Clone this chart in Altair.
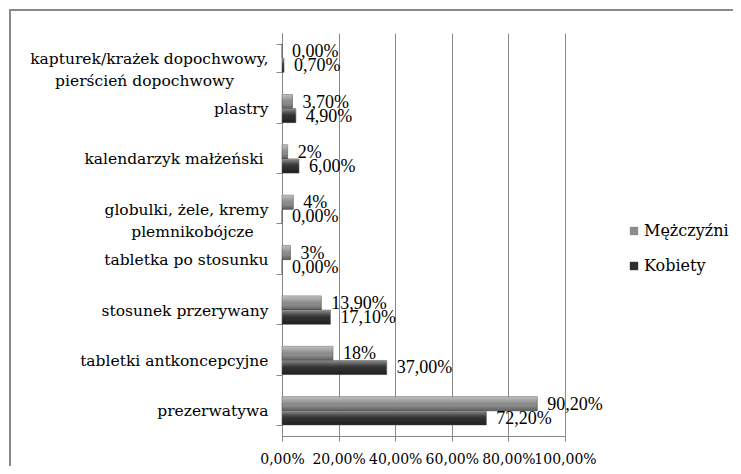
import altair as alt
import pandas as pd

NB = "\u00a0"
ZW = "\u200b"
categories = [
    "kapturek/krażek dopochwowy,|pierścień dopochwowy" + NB * 7 + ZW,
    "plastry",
    "kalendarzyk małżeński" + NB + ZW,
    "globulki, żele, kremy|plemnikobójcze" + NB * 3 + ZW,
    "tabletka po stosunku",
    "stosunek przerywany",
    "tabletki antkoncepcyjne",
    "prezerwatywa",
]
series = ["Mężczyźni", "Kobiety"]
men_values = [0.0, 3.7, 2.0, 4.0, 3.0, 13.9, 18.0, 90.2]
women_values = [0.7, 4.9, 6.0, 0.0, 0.0, 17.1, 37.0, 72.2]
men_labels = ["0,00%", "3,70%", "2%", "4%", "3%", "13,90%", "18%", "90,20%"]
women_labels = ["0,70%", "4,90%", "6,00%", "0,00%", "0,00%", "17,10%", "37,00%", "72,20%"]
x_ticks = [0, 20, 40, 60, 80, 100]

rows = []
for c, v, l in zip(categories, men_values, men_labels):
    rows.append({"kat": c, "seria": series[0], "v": v, "lab": l})
for c, v, l in zip(categories, women_values, women_labels):
    rows.append({"kat": c, "seria": series[1], "v": v, "lab": l})
df = pd.DataFrame(rows)

AXFONT = "DejaVu Serif"
TXTFONT = "serif"

y_enc = alt.Y(
    "kat:N",
    sort=categories,
    scale=alt.Scale(paddingInner=0.44, paddingOuter=0.22),
    axis=alt.Axis(
        title=None,
        labelExpr="split(datum.label, '|')",
        labelFont=AXFONT,
        labelFontSize=15.5,
        labelColor="#000",
        labelPadding=8,
        labelLimit=400,
        labelLineHeight=22,
        tickBand="extent",
        tickSize=6,
        tickColor="#888",
        domainColor="#888",
        grid=False,
    ),
)
x_enc = alt.X(
    "v:Q",
    scale=alt.Scale(domain=[0, 100], nice=False),
    axis=alt.Axis(
        title=None,
        values=x_ticks,
        labelExpr="replace(format(datum.value, '.2f'), '.', ',') + '%'",
        labelFont=AXFONT,
        labelFontSize=14,
        labelColor="#000",
        labelOverlap=False,
        labelPadding=11,
        labelFlush=False,
        tickSize=5,
        tickColor="#888",
        domainColor="#888",
        gridColor="#8a8a8a",
        gridWidth=1,
    ),
)
yoff = alt.YOffset("seria:N", sort=series)

base = alt.Chart(df)

bars = base.mark_bar(stroke="#555", strokeWidth=0.6).encode(
    y=y_enc,
    x=x_enc,
    yOffset=yoff,
    color=alt.Color(
        "seria:N",
        sort=series,
        scale=alt.Scale(domain=series, range=["#8c8c8c", "#2e2e2e"]),
        legend=alt.Legend(
            title=None,
            orient="none",
            legendX=344,
            legendY=190,
            symbolType="square",
            symbolSize=70,
            symbolStrokeWidth=0,
            labelFont=AXFONT,
            labelFontSize=16,
            labelColor="#000",
            rowPadding=19,
            labelOffset=2,
        ),
    ),
)

shine = base.mark_bar(
    fill={
        "gradient": "linear",
        "x1": 0, "y1": 0, "x2": 0, "y2": 1,
        "stops": [
            {"offset": 0, "color": "rgba(255,255,255,0.45)"},
            {"offset": 0.35, "color": "rgba(255,255,255,0.12)"},
            {"offset": 0.65, "color": "rgba(0,0,0,0.0)"},
            {"offset": 1, "color": "rgba(0,0,0,0.35)"},
        ],
    }
).encode(y=alt.Y("kat:N", sort=categories), x="v:Q", yOffset=yoff)

labels = base.mark_text(
    align="left", baseline="middle", dx=10, dy=1, font=TXTFONT, fontSize=18, color="#000"
).encode(y=alt.Y("kat:N", sort=categories), x="v:Q", yOffset=yoff, text="lab:N")

border = alt.Chart(pd.DataFrame({"a": [0]})).mark_rect(
    fill=None, stroke="#8a8a8a", strokeWidth=2
).encode(
    x=alt.value(-272), x2=alt.value(700), y=alt.value(-23), y2=alt.value(600)
)

chart = alt.layer(border, bars, shine, labels).properties(
    width=283,
    height=403,
    autosize=alt.AutoSizeParams(type="none"),
    padding={"left": 274, "top": 25, "right": 168, "bottom": 30},
).configure_view(stroke=None)

chart.save("out.html", embed_options={"renderer": "svg", "actions": False})
